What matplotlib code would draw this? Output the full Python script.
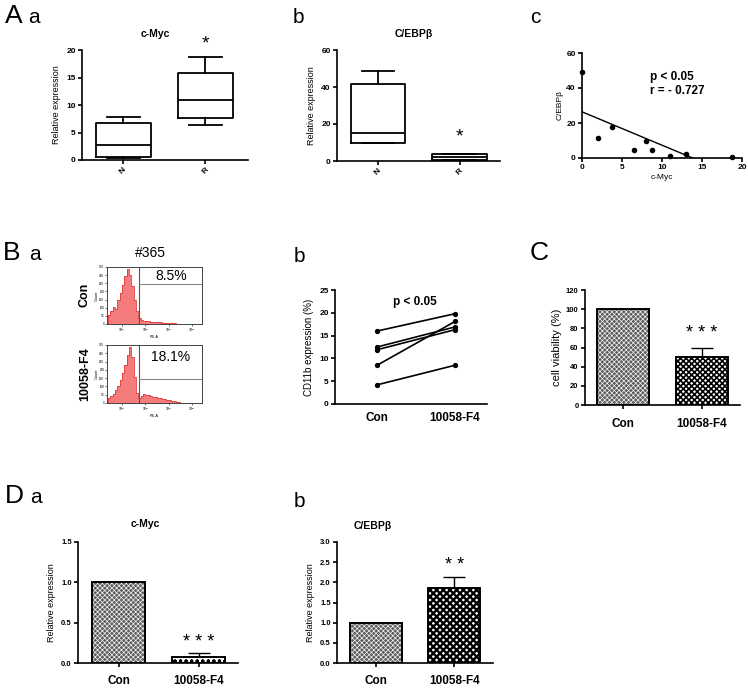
import numpy as np
import matplotlib
matplotlib.use('Agg')
import matplotlib.pyplot as plt

plt.rcParams['font.family'] = ['Liberation Sans', 'DejaVu Sans']
plt.rcParams['font.weight'] = 'bold'
plt.rcParams['hatch.linewidth'] = 0.9

# ---------------- data ----------------
box_groups = ['N', 'R']
cmyc_whislo = [0.3, 6.4]
cmyc_q1 = [0.5, 7.6]
cmyc_med = [2.8, 11.0]
cmyc_q3 = [6.8, 15.9]
cmyc_whishi = [7.9, 18.7]

cebpb_whislo = [9.5, 0.5]
cebpb_q1 = [10.0, 0.5]
cebpb_med = [15.0, 2.0]
cebpb_q3 = [41.5, 4.0]
cebpb_whishi = [48.5, 4.0]

corr_cmyc = [0, 2.0, 3.7, 6.5, 8.0, 8.8, 11.0, 13.0, 18.7]
corr_cebpb = [49, 11.5, 18.0, 4.3, 9.5, 4.3, 1.0, 2.3, 0.8]

hist_edges_log = np.arange(1.4, 5.41, 0.1)
hist_con = [0.15, 0.22, 0.30, 0.26, 0.42, 0.55, 0.68, 0.85, 0.96, 0.86,
            0.66, 0.42, 0.22, 0.10, 0.07, 0.06, 0.05, 0.05, 0.04, 0.04,
            0.035, 0.03, 0.03, 0.025, 0.02, 0.02, 0.015, 0.01, 0.01, 0.005,
            0, 0, 0, 0, 0, 0, 0, 0, 0, 0]
hist_f4 = [0.08, 0.12, 0.16, 0.22, 0.30, 0.40, 0.52, 0.66, 0.82, 0.97,
           0.80, 0.45, 0.18, 0.09, 0.12, 0.15, 0.14, 0.13, 0.12, 0.11,
           0.10, 0.09, 0.08, 0.07, 0.065, 0.06, 0.05, 0.04, 0.03, 0.02,
           0.01, 0.005, 0, 0, 0, 0, 0, 0, 0, 0]
gate_log = 2.73
gate_hline = [0.70, 0.41]
gate_pct = ['8.5%', '18.1%']

treat_groups = ['Con', '10058-F4']
cd11b_con = [16.0, 12.5, 11.9, 8.5, 4.2]
cd11b_f4 = [19.8, 16.9, 16.3, 18.1, 8.5]

viability = [100, 50]
viability_err = [0, 9]

dmyc = [1.0, 0.07]
dmyc_err = [0, 0.05]
dcebpb = [1.0, 1.87]
dcebpb_err = [0, 0.25]

# ---------------- figure ----------------
W, H = 748, 690
fig = plt.figure(figsize=(W / 100, H / 100), dpi=100)


def add_ax(x0, y0, x1, y1):
    return fig.add_axes([x0 / W, 1 - y1 / H, (x1 - x0) / W, (y1 - y0) / H])


def ftext(x, y, s, **kw):
    return fig.text(x / W, 1 - y / H, s, **kw)


def style(ax, lw=1.2, fs=6):
    for s in ['top', 'right']:
        ax.spines[s].set_visible(False)
    for s in ['left', 'bottom']:
        ax.spines[s].set_linewidth(lw)
    ax.tick_params(direction='out', length=3, width=lw, labelsize=fs, pad=1.5)


def letter(x, y, s, size):
    ftext(x, y, s, fontsize=size, fontweight='normal', va='baseline', ha='left')


# ---------- A a ----------
ax = add_ax(82, 50, 248, 160)
stats = [dict(whislo=cmyc_whislo[i], q1=cmyc_q1[i], med=cmyc_med[i], q3=cmyc_q3[i],
              whishi=cmyc_whishi[i]) for i in range(2)]
lp = dict(color='black', linewidth=1.3)
ax.bxp(stats, positions=[0, 1], widths=0.67, showfliers=False, boxprops=lp,
       whiskerprops=lp, capprops=lp, medianprops=lp, capwidths=0.4)
style(ax)
ax.set_xlim(-0.5, 1.52)
ax.set_ylim(0, 20)
ax.set_yticks([0, 5, 10, 15, 20])
ax.set_xticks([0, 1])
ax.set_xticklabels(box_groups, rotation=45, fontsize=6)
ax.set_ylabel('Relative expression', fontsize=6.5, labelpad=4)
ax.text(1, 19.6, '*', ha='center', va='bottom', fontsize=14, fontweight='normal', clip_on=False)
ftext(155, 37, 'c-Myc', ha='center', fontsize=7.5)
letter(5, 23, 'A', 19)
letter(28, 23, 'a', 15)

# ---------- A b ----------
ax = add_ax(337, 50, 500, 161)
stats = [dict(whislo=cebpb_whislo[i], q1=cebpb_q1[i], med=cebpb_med[i], q3=cebpb_q3[i],
              whishi=cebpb_whishi[i]) for i in range(2)]
ax.bxp(stats, positions=[0, 1], widths=0.67, showfliers=False, boxprops=lp,
       whiskerprops=lp, capprops=lp, medianprops=lp, capwidths=0.4)
style(ax)
ax.set_xlim(-0.5, 1.49)
ax.set_ylim(0, 60)
ax.set_yticks([0, 20, 40, 60])
ax.set_xticks([0, 1])
ax.set_xticklabels(box_groups, rotation=45, fontsize=6)
ax.set_ylabel('Relative expression', fontsize=6.5, labelpad=4)
ax.text(1, 8.5, '*', ha='center', va='bottom', fontsize=14, fontweight='normal')
ftext(414, 37, 'C/EBPβ', ha='center', fontsize=7.5)
letter(293, 23, 'b', 15)

# ---------- A c ----------
ax = add_ax(582, 53, 742, 158)
ax.scatter(corr_cmyc, corr_cebpb, s=9, color='black', zorder=3, clip_on=False)
slope, icpt = np.polyfit(corr_cmyc, corr_cebpb, 1)
xs = np.array([0, 20])
ax.plot(xs, slope * xs + icpt, color='black', linewidth=1.0)
style(ax, fs=6)
ax.set_xlim(0, 20)
ax.set_ylim(0, 60)
ax.set_xticks([0, 5, 10, 15, 20])
ax.set_yticks([0, 20, 40, 60])
ax.set_xlabel('c-Myc', fontsize=6, labelpad=2)
ax.set_ylabel('C/EBPβ', fontsize=6, labelpad=2)
ftext(650, 80, 'p < 0.05', fontsize=8.5, va='baseline')
ftext(650, 94, 'r = - 0.727', fontsize=8.5, va='baseline')
letter(530, 23, 'c', 15)

# ---------- B a ----------
letter(3, 260, 'B', 19)
letter(29, 260, 'a', 15)
ftext(150, 253, '#365', ha='center', va='center', fontsize=10, fontweight='normal')
hist_rows = [(267, 324, hist_con, 'Con', 295), (345, 403, hist_f4, '10058-F4', 374)]
for i, (yt, yb, counts, lab, ylab) in enumerate(hist_rows):
    ax = add_ax(107, yt, 202, yb)
    ax.stairs(counts, hist_edges_log, fill=True, facecolor='#f47c7c', edgecolor='none')
    ax.stairs(counts, hist_edges_log, fill=False, edgecolor='#e23c3c', linewidth=0.6)
    ax.axvline(gate_log, color='#555555', linewidth=0.8)
    ax.plot([gate_log, 5.43], [gate_hline[i]] * 2, color='#888888', linewidth=0.8)
    ax.set_xlim(1.36, 5.43)
    ax.set_ylim(0, 1.0)
    for s in ax.spines.values():
        s.set_linewidth(0.7)
        s.set_color('#444444')
    ax.set_xticks([2, 3, 4, 5])
    ax.set_xticklabels(['10$^2$', '10$^3$', '10$^4$', '10$^5$'], fontsize=2.5, fontweight='normal')
    ax.set_yticks(np.linspace(0, 1, 8))
    ax.set_yticklabels([str(int(v)) for v in np.linspace(0, 350, 8)], fontsize=2.2,
                       fontweight='normal')
    ax.tick_params(length=1.5, width=0.4, pad=0.5)
    ax.set_xlabel('PE-A', fontsize=2.8, fontweight='normal', labelpad=0.5)
    ax.set_ylabel('Count', fontsize=2.8, fontweight='normal', labelpad=0.5)
    ax.text(4.1, (1 + gate_hline[i]) / 2 if i == 0 else 0.8, gate_pct[i], ha='center',
            va='center', fontsize=10, fontweight='normal')
    ftext(85, ylab, lab, rotation=90, ha='center', va='center', fontsize=9)

# ---------- B b ----------
ax = add_ax(335, 290, 487, 404)
for a, b in zip(cd11b_con, cd11b_f4):
    ax.plot([0, 1], [a, b], color='black', marker='o', markersize=2.8, linewidth=1.2)
style(ax)
ax.set_xlim(-0.54, 1.41)
ax.set_ylim(0, 25)
ax.set_yticks([0, 5, 10, 15, 20, 25])
ax.set_xticks([0, 1])
ax.set_xticklabels(treat_groups, fontsize=8.5)
ax.tick_params(axis='x', length=0, pad=6)
ax.set_ylabel('CD11b expression (%)', fontsize=7, fontweight='normal', labelpad=4)
ftext(415, 305, 'p < 0.05', ha='center', va='baseline', fontsize=8.5)
letter(294, 262, 'b', 15)


# ---------- bar helper ----------
# each bar style: (facecolor, hatch colour, hatch, hatch linewidth)
fine_check = ('#5e5e5e', 'white', 'xxxxxxx', 0.45)


def bars(ax, vals, errs, styles):
    for i, (v, e, st) in enumerate(zip(vals, errs, styles)):
        fc, hc, h, hl = st
        p = ax.bar(i, v, width=0.66, color=fc, edgecolor=hc, hatch=h,
                   linewidth=0, zorder=2)
        for patch in p:
            try:
                patch.set_hatch_linewidth(hl)
            except AttributeError:
                pass
        ax.bar(i, v, width=0.66, fill=False, edgecolor='black', linewidth=1.4, zorder=3)
        if e > 0:
            ax.errorbar(i, v, yerr=[[0], [e]], color='black', capsize=8, elinewidth=1.0,
                        capthick=1.0, zorder=1)


# ---------- C ----------
ax = add_ax(585, 290, 740, 405)
bars(ax, viability, viability_err, [fine_check, ('white', 'black', 'xxxxxx', 1.2)])
style(ax, fs=5.5)
ax.set_xlim(-0.48, 1.48)
ax.set_ylim(0, 120)
ax.set_yticks([0, 20, 40, 60, 80, 100, 120])
ax.set_xticks([0, 1])
ax.set_xticklabels(treat_groups, fontsize=8.5)
ax.tick_params(axis='x', pad=6)
ax.set_ylabel('cell viability (%)', fontsize=8, labelpad=3)
ax.text(1, 66, '* * *', ha='center', va='bottom', fontsize=13, fontweight='normal')
letter(530, 260, 'C', 19)

# ---------- D a ----------
ax = add_ax(78, 542, 238, 663)
bars(ax, dmyc, dmyc_err, [fine_check, ('white', 'black', 'ooo', 0.8)])
style(ax, fs=5.5)
ax.set_xlim(-0.51, 1.49)
ax.set_ylim(0, 1.5)
ax.set_yticks([0, 0.5, 1.0, 1.5])
ax.set_yticklabels(['0.0', '0.5', '1.0', '1.5'])
ax.set_xticks([0, 1])
ax.set_xticklabels(treat_groups, fontsize=8.5)
ax.tick_params(axis='x', pad=6)
ax.set_ylabel('Relative expression', fontsize=6.5, labelpad=4)
ax.text(1, 0.15, '* * *', ha='center', va='bottom', fontsize=13, fontweight='normal')
ftext(145, 527, 'c-Myc', ha='center', fontsize=7.5)
letter(5, 503, 'D', 19)
letter(30, 503, 'a', 15)

# ---------- D b ----------
ax = add_ax(337, 542, 493, 663)
bars(ax, dcebpb, dcebpb_err, [fine_check, ('white', 'black', 'xxxxx', 1.7)])
style(ax, fs=5.5)
ax.set_xlim(-0.49, 1.49)
ax.set_ylim(0, 3.0)
ax.set_yticks([0, 0.5, 1.0, 1.5, 2.0, 2.5, 3.0])
ax.set_yticklabels(['0.0', '0.5', '1.0', '1.5', '2.0', '2.5', '3.0'])
ax.set_xticks([0, 1])
ax.set_xticklabels(treat_groups, fontsize=8.5)
ax.tick_params(axis='x', pad=6)
ax.set_ylabel('Relative expression', fontsize=6.5, labelpad=4)
ax.text(1, 2.2, '* *', ha='center', va='bottom', fontsize=13, fontweight='normal')
ftext(373, 529, 'C/EBPβ', ha='center', fontsize=7.5)
letter(294, 507, 'b', 15)

fig.savefig('out.png', dpi=100)
